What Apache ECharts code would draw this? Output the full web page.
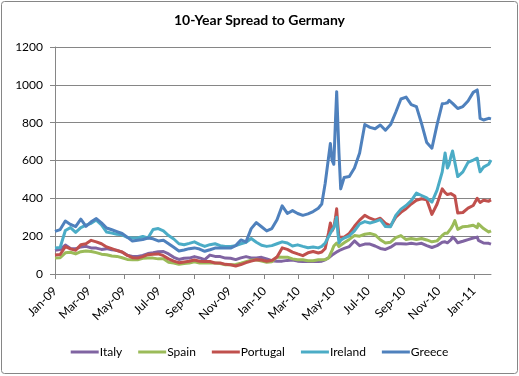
<!DOCTYPE html>
<html>
<head>
<meta charset="utf-8">
<script src="https://cdn.jsdelivr.net/npm/echarts@6/dist/echarts.min.js"></script>
<style>
html,body{margin:0;padding:0;background:#fff;}
#c{width:519px;height:376px;}
</style>
</head>
<body>
<div id="c"></div>
<script>
// Observation days, counted from 2009-01-01
var sampleDays = [0,9,18,27,36,45,54,63,72,81,90,99,108,117,126,135,144,153,162,171,180,189,198,207,216,225,234,243,252,261,270,279,288,297,306,315,324,333,342,351,360,369,378,387,396,405,414,423,432,441,450,459,465,471,477,480,483,486,489,491,493,495,498,504,513,522,531,540,549,558,567,576,585,594,603,612,621,630,639,648,657,666,675,680,684,687,690,693,697,702,711,720,729,736,738,741,747,756,760];

var italy = [125,130,153,135,133,143,146,138,137,130,134,128,125,116,100,93,93,98,108,112,118,119,106,88,77,83,84,92,85,76,100,93,92,84,83,76,85,92,85,85,88,80,70,67,68,72,74,68,66,66,66,66,68,75,86,93,100,106,112,116,120,124,128,135,145,175,150,158,158,148,135,130,142,160,160,158,162,158,162,150,140,150,168,170,165,166,180,195,185,165,173,182,190,195,178,170,164,162,158];

var spain = [84,86,112,115,106,118,122,119,113,105,102,95,93,86,77,75,75,83,84,84,80,80,62,58,51,56,58,65,58,58,58,58,55,49,49,50,57,65,73,75,68,62,65,90,88,89,80,75,75,70,70,75,75,76,85,95,125,148,158,164,155,145,142,165,183,203,200,210,214,207,181,164,168,192,203,182,188,182,188,180,170,175,204,216,216,222,240,255,282,236,250,252,258,245,265,260,240,222,228];

var portugal = [100,103,145,133,125,155,160,178,170,160,143,134,124,116,98,86,84,92,102,104,106,97,80,68,60,64,67,74,67,66,66,58,58,51,49,42,50,60,68,75,74,67,72,90,138,130,116,106,97,112,119,111,116,135,220,270,228,245,300,345,260,196,192,194,215,252,285,310,295,285,295,268,255,300,326,345,370,390,398,392,315,370,450,430,420,420,425,425,412,322,325,348,362,400,410,378,390,385,392];

var ireland = [137,140,230,245,220,245,258,268,285,260,222,216,210,207,193,190,190,198,190,235,240,228,203,185,160,155,162,170,157,146,155,160,150,146,146,150,160,168,188,168,152,146,150,160,170,164,148,154,146,139,143,138,146,164,198,215,234,245,255,300,220,165,178,190,202,228,265,277,270,277,287,251,250,310,343,362,388,428,415,402,380,443,540,640,560,580,620,650,590,515,540,590,602,612,580,540,565,580,603];

var greece = [225,235,280,262,250,290,252,276,293,270,243,234,224,214,195,174,178,182,190,186,175,178,160,141,122,127,134,138,132,120,128,137,137,137,137,150,180,170,240,272,250,228,240,287,360,320,335,320,310,318,330,348,370,480,620,690,600,580,820,964,800,640,450,510,515,560,640,790,775,768,788,760,790,855,925,935,895,885,795,695,665,790,900,902,905,918,910,902,890,875,885,915,960,973,930,823,814,823,820];

var seriesNames = ['Italy','Spain','Portugal','Ireland','Greece'];
var seriesValues = [italy, spain, portugal, ireland, greece];
var seriesColors = ['#8064A2','#9BBB59','#C0504D','#4BACC6','#4F81BD'];
var monthNames = ['Jan','Feb','Mar','Apr','May','Jun','Jul','Aug','Sep','Oct','Nov','Dec'];
var yTicks = [0,200,400,600,800,1000,1200];

var startY = 2009, totalDays = 761;
var categories = [];
for (var i = 0; i < totalDays; i++) {
  var dt = new Date(Date.UTC(startY, 0, 1 + i));
  categories.push(dt.toISOString().slice(0,10));
}
function isTickDay(idx) {
  var s = categories[idx];
  return s.slice(8,10) === '01' && (parseInt(s.slice(5,7),10) - 1) % 2 === 0;
}
function fmt(v) {
  var m = parseInt(v.slice(5,7),10) - 1;
  return monthNames[m] + '-' + v.slice(2,4);
}

var FONT = 'Lato';
var chart = echarts.init(document.getElementById('c'), null, {renderer:'canvas'});
chart.setOption({
  animation: false,
  backgroundColor: '#fff',
  textStyle: {fontFamily: FONT},
  title: {
    text: '10-Year Spread to Germany',
    left: 'center', top: 8,
    textStyle: {fontFamily: FONT, fontSize: 14, fontWeight: 'bold', color: '#000'}
  },
  graphic: [{
    type: 'rect', shape: {x: 1.5, y: 1.5, width: 516, height: 372, r: 3},
    style: {fill: 'none', stroke: '#868686', lineWidth: 1}, silent: true, z: -1
  }],
  grid: {left: 55, right: 28, top: 47, bottom: 102, containLabel: false},
  legend: {
    bottom: 13, left: 'center',
    data: seriesNames,
    icon: 'rect', itemWidth: 28, itemHeight: 3, itemGap: 16,
    textStyle: {fontFamily: FONT, fontSize: 12, color: '#000', padding: [0,0,0,-4]}
  },
  xAxis: {
    type: 'category', data: categories, boundaryGap: false,
    axisLine: {lineStyle: {color: '#868686', width: 1}},
    axisTick: {show: true, length: 5, interval: function(idx){return isTickDay(idx);}, lineStyle: {color: '#868686'}},
    axisLabel: {
      interval: function(idx){return isTickDay(idx);},
      rotate: 45, margin: 15, fontSize: 12, color: '#000', fontFamily: FONT,
      formatter: fmt
    },
    splitLine: {show: false}
  },
  yAxis: {
    type: 'value', min: yTicks[0], max: yTicks[yTicks.length-1], interval: 200,
    axisLine: {show: true, lineStyle: {color: '#868686'}},
    axisTick: {show: true, length: 5, lineStyle: {color: '#868686'}},
    axisLabel: {fontSize: 12, color: '#000', margin: 12, fontFamily: FONT,
      formatter: function(v){ return String(v); }},
    splitLine: {lineStyle: {color: '#868686', width: 1}}
  },
  series: seriesNames.map(function(n, k){
    return {
      name: n, type: 'line', showSymbol: false, symbol: 'none',
      color: seriesColors[k],
      lineStyle: {width: 3, color: seriesColors[k], join: 'round'},
      data: sampleDays.map(function(d, i){ return [d, seriesValues[k][i]]; })
    };
  })
});
</script>
</body>
</html>
